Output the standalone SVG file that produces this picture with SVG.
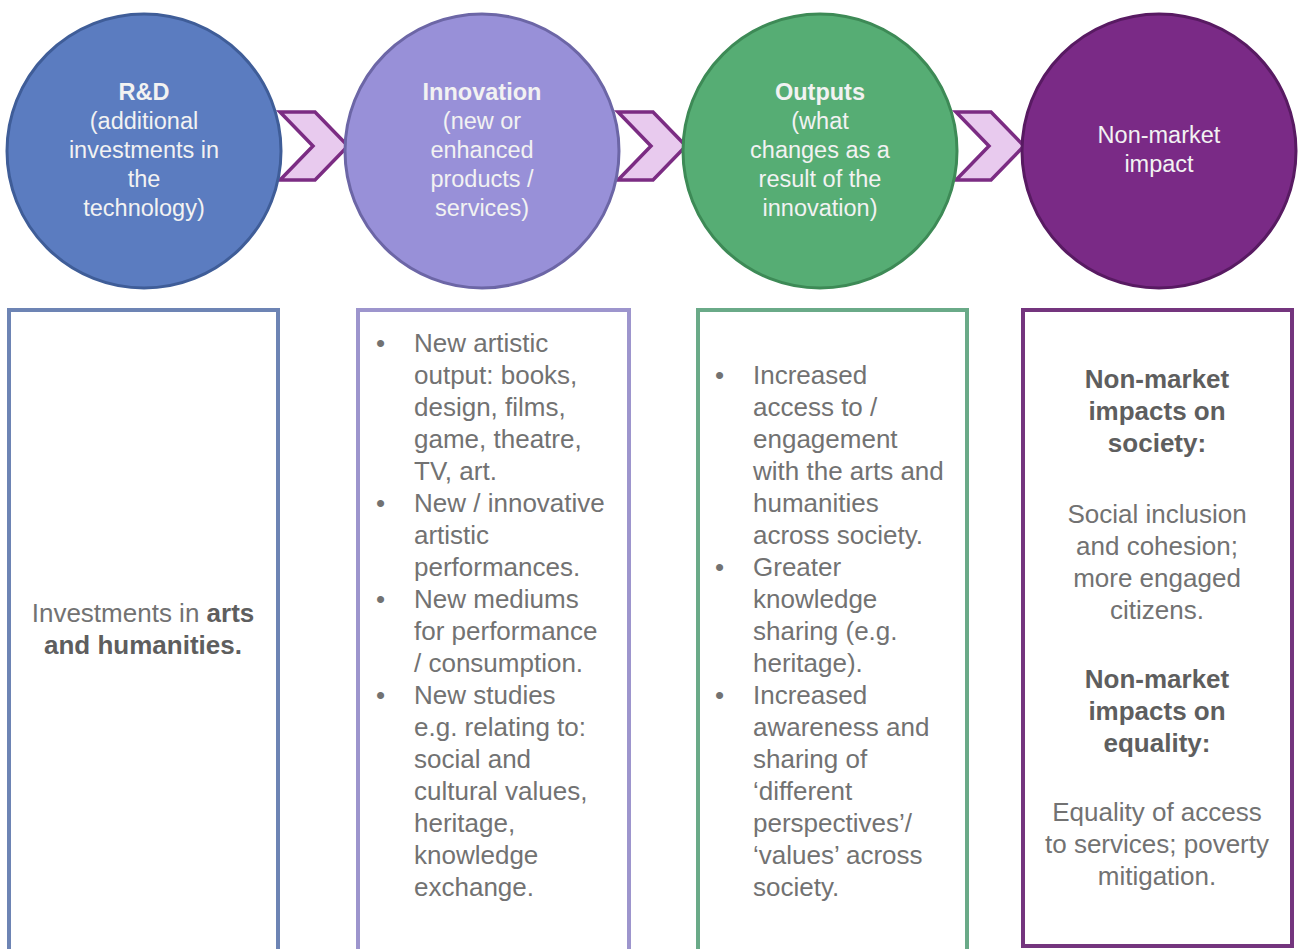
<svg xmlns="http://www.w3.org/2000/svg" width="1298" height="949" viewBox="0 0 1298 949">
<style>
.ct{font-family:"Liberation Sans",Arial,sans-serif;font-size:23.5px;fill:#f2f2f2;text-anchor:middle}
.ctb{font-weight:bold}
.bt{font-family:"Liberation Sans",Arial,sans-serif;font-size:26px;fill:#727272}
.bc{text-anchor:middle}
.bb{font-weight:bold;fill:#5e5e5e}
.box{fill:#ffffff;stroke-width:4}
.chev{fill:#e8caee;stroke:#7b2c83;stroke-width:3.5;stroke-linejoin:miter}
</style>
<rect width="1298" height="949" fill="#ffffff"/>
<g id="connectors">
<polygon class="chev" points="280,112 315,112 348,146 315,180 280,180 313,146"/>
<polygon class="chev" points="618,112 653,112 686,146 653,180 618,180 651,146"/>
<polygon class="chev" points="956,112 991,112 1024,146 991,180 956,180 989,146"/>
</g>
<g id="node-rd">
<circle cx="144" cy="151" r="137" fill="#5b7cc0" stroke="#3f5d98" stroke-width="3"/>
<text class="ct"><tspan class="ctb" x="144" y="100">R&amp;D</tspan><tspan x="144" y="129">(additional</tspan><tspan x="144" y="158">investments in</tspan><tspan x="144" y="187">the</tspan><tspan x="144" y="216">technology)</tspan></text>
</g>
<g id="node-innovation">
<circle cx="482" cy="151" r="137" fill="#9890d8" stroke="#6c66a6" stroke-width="3"/>
<text class="ct"><tspan class="ctb" x="482" y="100">Innovation</tspan><tspan x="482" y="129">(new or</tspan><tspan x="482" y="158">enhanced</tspan><tspan x="482" y="187">products /</tspan><tspan x="482" y="216">services)</tspan></text>
</g>
<g id="node-outputs">
<circle cx="820" cy="151" r="137" fill="#56ad74" stroke="#3d8a56" stroke-width="3"/>
<text class="ct"><tspan class="ctb" x="820" y="100">Outputs</tspan><tspan x="820" y="129">(what</tspan><tspan x="820" y="158">changes as a</tspan><tspan x="820" y="187">result of the</tspan><tspan x="820" y="216">innovation)</tspan></text>
</g>
<g id="node-impact">
<circle cx="1159" cy="151" r="137" fill="#7a2a86" stroke="#581a62" stroke-width="3"/>
<text class="ct"><tspan x="1159" y="143">Non-market</tspan><tspan x="1159" y="172">impact</tspan></text>
</g>
<g id="box-rd">
<rect class="box" x="9" y="310" width="269" height="645" stroke="#6d84b4"/>
<text class="bt bc"><tspan x="143" y="622">Investments  in <tspan class="bb">arts</tspan></tspan><tspan class="bb" x="143" y="654">and humanities.</tspan></text>
</g>
<g id="box-innovation">
<rect class="box" x="358" y="310" width="271" height="645" stroke="#9d95cd"/>
<g class="bt">
<text x="376" y="352">•</text>
<text x="376" y="512">•</text>
<text x="376" y="608">•</text>
<text x="376" y="704">•</text>
<text><tspan x="414" y="352">New artistic</tspan><tspan x="414" y="384">output: books,</tspan><tspan x="414" y="416">design, films,</tspan><tspan x="414" y="448">game, theatre,</tspan><tspan x="414" y="480">TV, art.</tspan><tspan x="414" y="512">New / innovative</tspan><tspan x="414" y="544">artistic</tspan><tspan x="414" y="576">performances.</tspan><tspan x="414" y="608">New mediums</tspan><tspan x="414" y="640">for performance</tspan><tspan x="414" y="672">/ consumption.</tspan><tspan x="414" y="704">New studies</tspan><tspan x="414" y="736">e.g. relating to:</tspan><tspan x="414" y="768">social and</tspan><tspan x="414" y="800">cultural values,</tspan><tspan x="414" y="832">heritage,</tspan><tspan x="414" y="864">knowledge</tspan><tspan x="414" y="896">exchange.</tspan></text>
</g>
</g>
<g id="box-outputs">
<rect class="box" x="698" y="310" width="269" height="645" stroke="#6aaa88"/>
<g class="bt">
<text x="715" y="384">•</text>
<text x="715" y="576">•</text>
<text x="715" y="704">•</text>
<text><tspan x="753" y="384">Increased</tspan><tspan x="753" y="416">access to /</tspan><tspan x="753" y="448">engagement</tspan><tspan x="753" y="480">with the arts and</tspan><tspan x="753" y="512">humanities</tspan><tspan x="753" y="544">across society.</tspan><tspan x="753" y="576">Greater</tspan><tspan x="753" y="608">knowledge</tspan><tspan x="753" y="640">sharing (e.g.</tspan><tspan x="753" y="672">heritage).</tspan><tspan x="753" y="704">Increased</tspan><tspan x="753" y="736">awareness and</tspan><tspan x="753" y="768">sharing of</tspan><tspan x="753" y="800">‘different</tspan><tspan x="753" y="832">perspectives’/</tspan><tspan x="753" y="864">‘values’ across</tspan><tspan x="753" y="896">society.</tspan></text>
</g>
</g>
<g id="box-impact">
<rect class="box" x="1023" y="310" width="269" height="636" stroke="#74357e"/>
<text class="bt bc"><tspan class="bb" x="1157" y="388">Non-market</tspan><tspan class="bb" x="1157" y="420">impacts on</tspan><tspan class="bb" x="1157" y="452">society:</tspan><tspan x="1157" y="523">Social inclusion</tspan><tspan x="1157" y="555">and cohesion;</tspan><tspan x="1157" y="587">more engaged</tspan><tspan x="1157" y="619">citizens.</tspan><tspan class="bb" x="1157" y="688">Non-market</tspan><tspan class="bb" x="1157" y="720">impacts on</tspan><tspan class="bb" x="1157" y="752">equality:</tspan><tspan x="1157" y="821">Equality of access</tspan><tspan x="1157" y="853">to services; poverty</tspan><tspan x="1157" y="885">mitigation.</tspan></text>
</g>
</svg>
